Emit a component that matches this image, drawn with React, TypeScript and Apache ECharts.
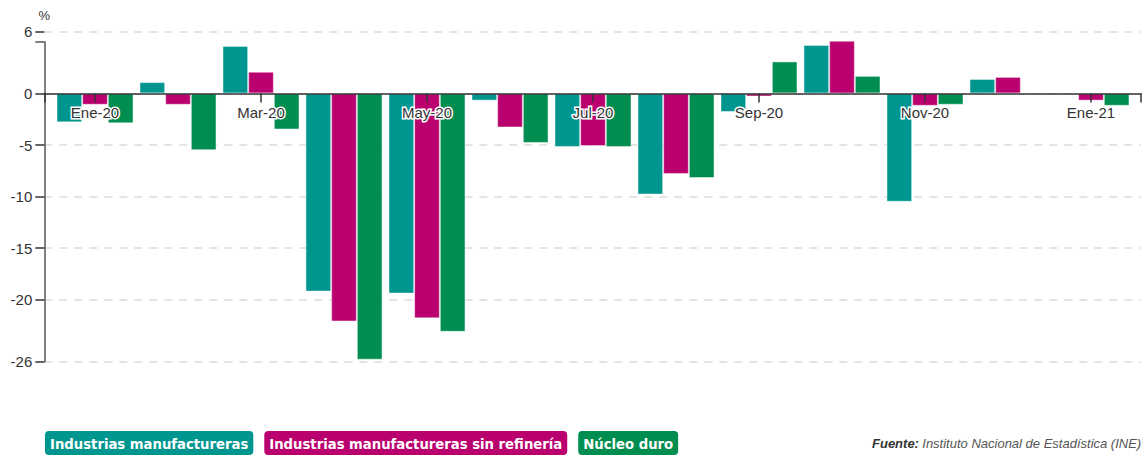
import React, { useEffect, useRef } from "react";
import * as echarts from "echarts";

const months = ["Ene-20", "Feb-20", "Mar-20", "Abr-20", "May-20", "Jun-20", "Jul-20", "Ago-20", "Sep-20", "Oct-20", "Nov-20", "Dic-20", "Ene-21"];
const manufactureras = [-2.8, 1.1, 4.6, -19.2, -19.4, -0.7, -5.2, -9.8, -1.8, 4.7, -10.5, 1.4, -0.1];
const sinRefineria = [-1.1, -1.1, 2.1, -22.1, -21.8, -3.3, -5.1, -7.8, -0.3, 5.1, -1.2, 1.6, -0.7];
const nucleoDuro = [-2.9, -5.5, -3.5, -25.8, -23.1, -4.8, -5.2, -8.2, 3.1, 1.7, -1.1, 0.0, -1.2];
const yTicks = [6, 0, -5, -10, -15, -20, -26];
const seriesNames = ["Industrias manufactureras", "Industrias manufactureras sin refinería", "Núcleo duro"];
const colors = ["#009690", "#b9006e", "#008e50"];

const FONT = "Arial, 'Liberation Sans', sans-serif";

export default function App() {
  const ref = useRef<HTMLDivElement>(null);
  useEffect(() => {
    if (!ref.current) return;
    const chart = echarts.init(ref.current, null, { renderer: "svg" });
    const values = [manufactureras, sinRefineria, nucleoDuro];
    const gridTop = 31.5;
    const gridBottom = 94.3;
    const plotH = 456 - gridTop - gridBottom;
    const yMin = -26;
    const yMax = 6;
    // distance from grid bottom to the zero line, so the category axis sits on zero
    const zeroOffset = -(plotH * (0 - yMin)) / (yMax - yMin);
    const option: any = {
      animation: false,
      backgroundColor: "#fff",
      grid: [
        { left: 53.5, right: 12.5, top: gridTop, bottom: gridBottom },
        { left: 44.3, right: 4, top: 41.8, bottom: gridBottom },
        { left: 44.3, right: 4, top: gridTop, bottom: gridBottom },
      ],
      xAxis: [
        {
          type: "category",
          gridIndex: 0,
          data: months,
          z: 10,
          position: "bottom",
          offset: zeroOffset,
          axisLine: { show: false, onZero: false },
          axisTick: { show: true, interval: 1, alignWithLabel: true, length: 9, lineStyle: { color: "#333", width: 1.5 } },
          axisLabel: {
            interval: 1,
            margin: 12,
            color: "#333",
            fontSize: 15,
            fontFamily: FONT,
            textBorderColor: "#fff",
            textBorderWidth: 3,
          },
          splitLine: { show: false },
        },
        {
          type: "value",
          gridIndex: 1,
          min: 0,
          max: 1,
          z: 10,
          axisLine: { show: true, onZero: true, lineStyle: { color: "#333", width: 1.5 } },
          axisTick: { show: true, customValues: [0, 1], length: 9, lineStyle: { color: "#333", width: 1.5 } },
          axisLabel: { show: false },
          splitLine: { show: false },
        },
        {
          type: "value",
          gridIndex: 2,
          min: 0,
          max: 1,
          show: false,
        },
      ],
      yAxis: [
        {
          type: "value",
          gridIndex: 0,
          min: yMin,
          max: yMax,
          axisLine: { show: false },
          axisTick: { show: false },
          axisLabel: { show: false },
          splitLine: { show: false },
        },
        {
          type: "value",
          gridIndex: 1,
          min: -26,
          max: 5,
          axisLine: { show: true, lineStyle: { color: "#555", width: 1.5 } },
          axisTick: { show: true, customValues: [5], length: 9, lineStyle: { color: "#555", width: 1.5 } },
          axisLabel: { show: false },
          splitLine: { show: false },
        },
        {
          type: "value",
          gridIndex: 2,
          min: yMin,
          max: yMax,
          name: "%",
          nameLocation: "end",
          nameGap: 10,
          nameTextStyle: { color: "#333", fontSize: 13, fontFamily: FONT, align: "center" },
          axisLine: { show: false },
          axisTick: { show: true, customValues: yTicks, length: 9, lineStyle: { color: "#333", width: 1.5 } },
          axisLabel: { customValues: yTicks, margin: 12, color: "#333", fontSize: 15, fontFamily: FONT },
          splitLine: { show: true, lineStyle: { color: "#dcdcdc", width: 1.5, type: [8, 7] } },
        },
      ],
      legend: {
        left: 40,
        top: 431,
        padding: 0,
        itemWidth: 0,
        itemHeight: 0,
        itemGap: 6,
        icon: "none",
        selectedMode: false,
        data: seriesNames.map((n, i) => ({
          name: n,
          icon: "none",
          textStyle: {
            color: "#fff",
            backgroundColor: colors[i],
            borderRadius: 4,
            padding: [3, 5, 3, 5],
            fontSize: 14.7,
            fontWeight: "bold",
            lineHeight: 18,
            fontFamily: "'Liberation Sans Narrow', 'DejaVu Sans Condensed', sans-serif",
          },
        })),
      },
      graphic: [
        {
          type: "text",
          left: 872,
          top: 437,
          style: {
            text: "{b|Fuente:} {n|Instituto Nacional de Estadística (INE)}",
            rich: {
              b: { fontFamily: FONT, fontSize: 13, fontStyle: "italic", fontWeight: "bold", fill: "#333" },
              n: { fontFamily: FONT, fontSize: 13, fontStyle: "italic", fill: "#555" },
            },
          },
        },
      ],
      series: seriesNames.map((n, i) => ({
        name: n,
        type: "bar",
        xAxisIndex: 0,
        yAxisIndex: 0,
        data: values[i],
        barGap: "0%",
        barCategoryGap: "7.2%",
        itemStyle: { color: colors[i], borderColor: "rgba(255,255,255,0.45)", borderWidth: 1 },
      })),
    };
    chart.setOption(option);
    return () => chart.dispose();
  }, []);
  return <div ref={ref} style={{ position: "fixed", left: 0, top: 0, width: 1145, height: 456 }} />;
}
